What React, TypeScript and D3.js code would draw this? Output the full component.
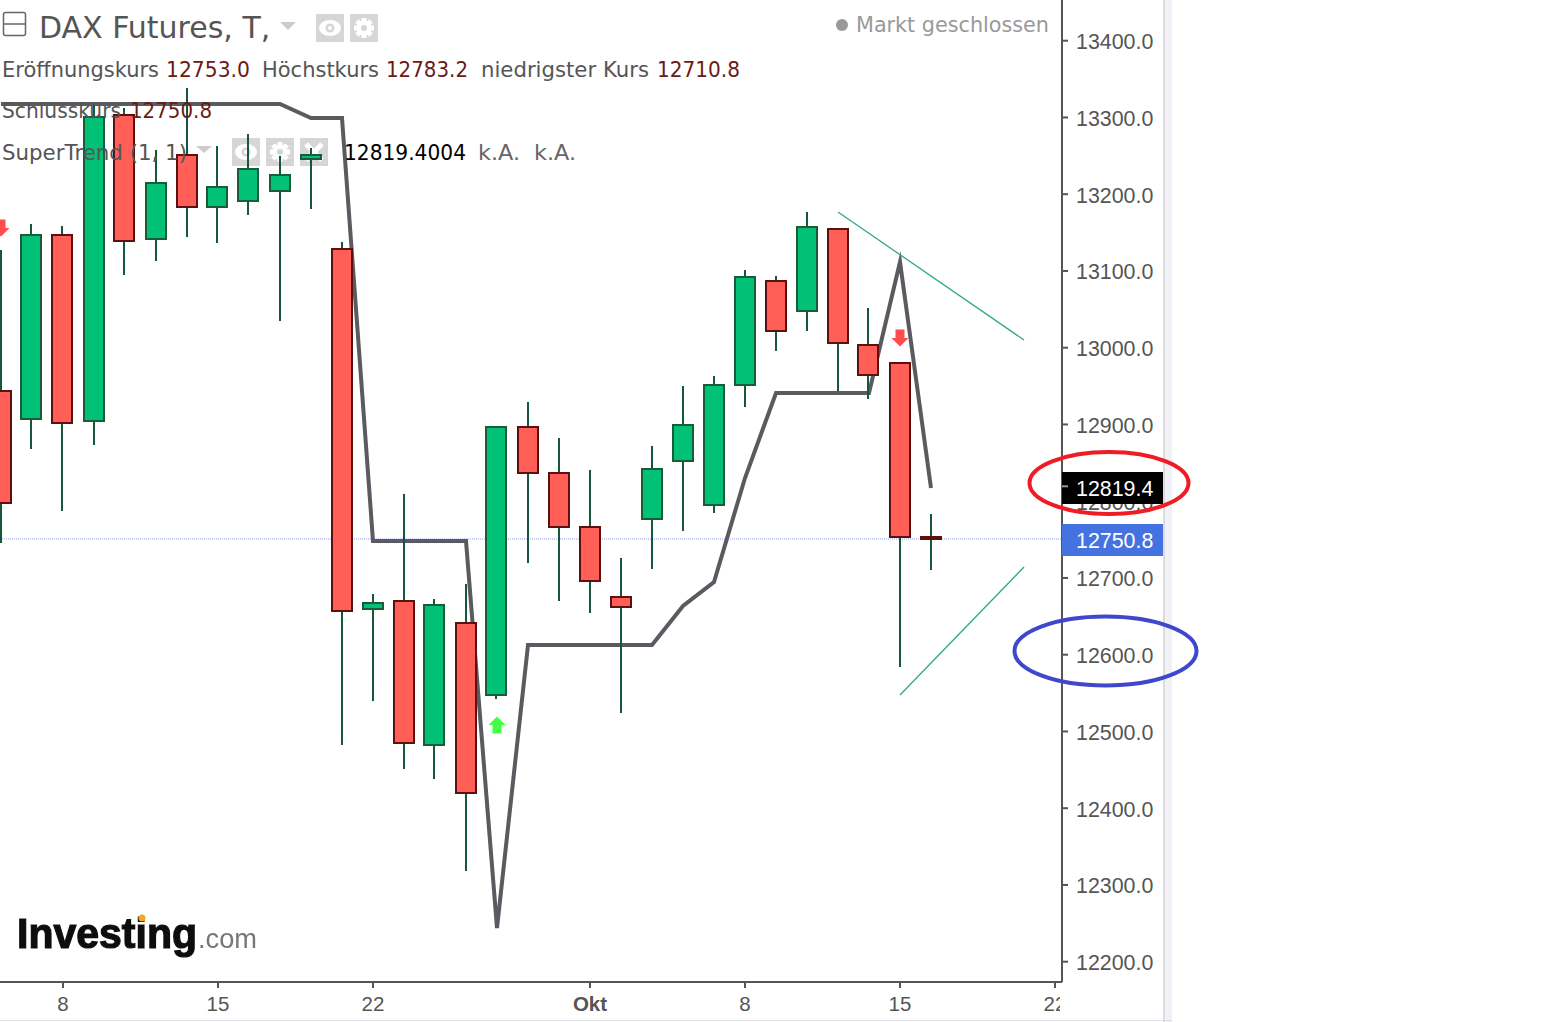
import React from 'react';
import { scaleLinear, line } from 'd3';

// daily candles, 3 Sep .. 16 Oct
const opens = [12943.6, 12907.1, 13146.8, 12904.5, 13303.2, 13141.6, 13251.0, 13183.3, 13191.1, 13204.2, 13245.9, 13128.6, 12659.5, 12669.9, 12482.3, 12641.3, 12547.5, 12896.7, 12836.7, 12766.4, 12675.2, 12776.8, 12852.4, 12795.0, 12951.4, 13086.9, 13047.8, 13154.7, 13003.5, 12980.0, 12753.0];
const highs = [13127.3, 13161.2, 13158.6, 13316.2, 13312.3, 13257.6, 13338.4, 13262.8, 13278.4, 13249.8, 13260.2, 13137.7, 12679.1, 12809.4, 12672.5, 12692.1, 12896.7, 12929.2, 12882.3, 12840.6, 12726.0, 12871.9, 12950.1, 12963.1, 13101.2, 13093.4, 13176.8, 13154.7, 13051.7, 12980.0, 12783.2];
const lows = [12745.5, 12868.0, 12787.2, 12873.2, 13094.7, 13113.0, 13144.2, 13136.4, 13172.9, 13034.8, 13180.7, 12482.3, 12539.6, 12451.0, 12438.0, 12318.1, 12542.2, 12719.4, 12669.9, 12654.3, 12524.0, 12711.6, 12761.1, 12784.6, 12922.7, 12995.7, 13021.8, 12943.6, 12933.1, 12584.0, 12710.8];
const closes = [12797.6, 13146.8, 12901.9, 13300.6, 13139.0, 13214.6, 13183.3, 13209.4, 13232.8, 13225.0, 13251.0, 12656.9, 12667.3, 12484.9, 12664.7, 12419.8, 12896.7, 12836.7, 12766.4, 12696.0, 12662.1, 12841.9, 12899.3, 12951.4, 13092.1, 13021.8, 13157.3, 13006.1, 12964.4, 12753.0, 12750.8];

const superTrend = [13317.5, 13317.5, 13317.5, 13317.5, 13317.5, 13317.5, 13317.5, 13317.5, 13317.5, 13317.5, 13299.3, 13299.3, 12748.1, 12748.1, 12748.1, 12748.1, 12243.9, 12612.6, 12612.6, 12612.6, 12612.6, 12612.6, 12663.4, 12694.7, 12830.2, 12941.0, 12941.0, 12941.0, 12941.0, 13111.7, 12817.2];

const priceTicks = [13400, 13300, 13200, 13100, 13000, 12900, 12800, 12700, 12600, 12500, 12400, 12300, 12200];
const dateTicks = [2, 7, 12, 19, 24, 29, 34];
const dateLabels = ['8', '15', '22', 'Okt', '8', '15', '22'];

const trendUpper = [[27, 13176.8], [33, 13010.0]];
const trendLower = [[29, 12547.5], [33, 12714.2]];

const downArrows = [[0, 13155.9], [29, 13012.6]];
const upArrows = [[16, 12508.4]];

const lastClose = 12750.8;
const lastTrend = 12819.4;

const uiFont = '"DejaVu Sans", sans-serif';
const axisFont = '"Liberation Sans", Arial, sans-serif';

const plotRight = 1062;
const plotBottom = 982;

const labelColor = '#555';
const valueColor = '#6b1a14';

const Eye = (props: { x: number, y: number }) => (
    <g transform={`translate(${props.x},${props.y})`}>
        <rect width={28} height={28} fill="#d6d6d6" />
        <ellipse cx={14} cy={14} rx={11} ry={8} fill="#fff" />
        <circle cx={14} cy={14} r={4.5} fill="#d6d6d6" />
        <circle cx={14} cy={14} r={2} fill="#fff" />
    </g>
);

const Gear = (props: { x: number, y: number }) => (
    <g transform={`translate(${props.x},${props.y})`}>
        <rect width={28} height={28} fill="#d6d6d6" />
        {[0, 45, 90, 135].map(a => <rect key={a} x={11.5} y={4} width={5} height={20} fill="#fff" transform={`rotate(${a} 14 14)`} />)}
        <circle cx={14} cy={14} r={7.5} fill="#fff" />
        <circle cx={14} cy={14} r={3} fill="#d6d6d6" />
    </g>
);

const Cross = (props: { x: number, y: number }) => (
    <g transform={`translate(${props.x},${props.y})`}>
        <rect width={28} height={28} fill="#d6d6d6" />
        <path d="M6 6L22 22M22 6L6 22" stroke="#fff" strokeWidth={5} />
    </g>
);

// legend text fitted to the width it has in the picture
const Label = (props: { x: number, x2: number, y: number, fill: string, size?: number, text: string }) => (
    <text x={props.x} y={props.y} fontFamily={uiFont} fontSize={props.size ?? 21} fill={props.fill}
        textLength={props.x2 - props.x} lengthAdjust="spacingAndGlyphs">{props.text}</text>
);

const App = () => {
    let x = scaleLinear().domain([0, 34]).range([1, 1055]);
    let y = scaleLinear().domain([13400, 12200]).range([40.7, 961.7]);
    let candleWidth = 20;

    let trendPath = line<number>().x((d, i) => x(i)).y(d => y(d))(superTrend);
    let pairPath = line<number[]>().x(d => x(d[0])).y(d => y(d[1]));

    return (
        <svg width={1560} height={1022} style={{ position: 'absolute', left: 0, top: 0, background: '#fff' }}>
            <defs>
                <clipPath id="plot"><rect x={0} y={0} width={1060} height={1022} /></clipPath>
                <filter id="soft"><feGaussianBlur stdDeviation={0.5} /></filter>
            </defs>

            {/* page edges */}
            <rect x={1163} y={0} width={9} height={1022} fill="#f1f1f8" />
            <rect x={1163} y={0} width={2} height={1022} fill="#dcdcdc" />
            <line x1={0} x2={1172} y1={1020.5} y2={1020.5} stroke="#dcdce4" />

            <Eye x={316} y={14} />
            <Gear x={350} y={14} />
            <Eye x={232} y={138} />
            <Gear x={266} y={138} />
            <Cross x={300} y={138} />

            <line x1={0} x2={plotRight} y1={y(lastClose)} y2={y(lastClose)} stroke="#8f9fe8" strokeDasharray="1 1" />

            <path d={trendPath} fill="none" stroke="#5a5a60" strokeWidth={4} strokeLinejoin="miter" strokeMiterlimit={6.5} />

            {opens.map((o, i) => {
                let up = closes[i] >= o;
                let top = y(Math.max(o, closes[i]));
                let bottom = y(Math.min(o, closes[i]));
                let cx = Math.floor(x(i));
                return (
                    <g key={i} shapeRendering="crispEdges">
                        <line x1={cx} x2={cx} y1={y(highs[i])} y2={y(lows[i])} stroke="#14573a" strokeWidth={2} />
                        <rect x={cx - candleWidth / 2} y={top} width={candleWidth} height={Math.max(bottom - top, 1)}
                            fill={up ? '#00c176' : '#ff5f57'} stroke={up ? '#1a5c3a' : '#5c1010'} strokeWidth={2} />
                    </g>
                );
            })}

            <path d={pairPath(trendUpper)} stroke="#2fa88c" strokeWidth={1.3} fill="none" />
            <path d={pairPath(trendLower)} stroke="#2fa88c" strokeWidth={1.3} fill="none" />

            {downArrows.map((d, i) => (
                <path key={i} transform={`translate(${x(d[0])},${y(d[1])})`} d="M-4.5 -8.5H4.5V0H8.5L0 8.5L-8.5 0H-4.5Z" fill="#ff4d4d" />
            ))}
            {upArrows.map((d, i) => (
                <path key={i} transform={`translate(${x(d[0])},${y(d[1])})`} d="M-4.5 8.5H4.5V0H8.5L0 -8.5L-8.5 0H-4.5Z" fill="#44ff44" />
            ))}

            {/* price axis */}
            <line x1={plotRight} x2={plotRight} y1={0} y2={plotBottom} stroke="#555" strokeWidth={2} />
            <line x1={0} x2={plotRight} y1={plotBottom} y2={plotBottom} stroke="#555" strokeWidth={2} />
            {priceTicks.map(t => (
                <g key={t} transform={`translate(${plotRight},${y(t)})`}>
                    <line x2={6} stroke="#555" strokeWidth={2} />
                    <text x={14} y={8.5} fontFamily={axisFont} fontSize={21.4} fill="#555">{t.toFixed(1)}</text>
                </g>
            ))}

            <rect x={plotRight} y={472} width={101} height={32} fill="#000" />
            <line x1={plotRight} x2={plotRight + 6} y1={y(lastTrend)} y2={y(lastTrend)} stroke="#999" strokeWidth={2} />
            <text x={plotRight + 14} y={y(lastTrend) + 10} fontFamily={axisFont} fontSize={21.4} fill="#fff">{lastTrend.toFixed(1)}</text>
            <rect x={plotRight} y={524} width={101} height={32} fill="#4472e0" />
            <text x={plotRight + 14} y={y(lastClose) + 9} fontFamily={axisFont} fontSize={21.4} fill="#fff">{lastClose.toFixed(1)}</text>

            {/* date axis */}
            <g clipPath="url(#plot)">
                {dateTicks.map((t, i) => (
                    <g key={i} transform={`translate(${x(t)},${plotBottom})`}>
                        <line y2={6} stroke="#555" strokeWidth={2} />
                        <text y={29} textAnchor="middle" fontFamily={axisFont} fontSize={20.5} fontWeight={dateLabels[i] == 'Okt' ? 'bold' : 'normal'} fill="#555">{dateLabels[i]}</text>
                    </g>
                ))}
            </g>

            {/* legend */}
            <rect x={3.5} y={12.5} width={22} height={23} rx={2} fill="none" stroke="#666" strokeWidth={1.5} />
            <line x1={4} x2={25} y1={24} y2={24} stroke="#666" strokeWidth={1.5} />
            <text x={39} y={38} fontFamily={uiFont} fontSize={30} fill="#555">DAX Futures, T,</text>
            <path d="M280 22H296L288 30Z" fill="#ccc" />

            <circle cx={842} cy={25} r={6} fill="#999" />
            <Label x={856} x2={1049} y={32} fill="#999" text="Markt geschlossen" />

            <Label x={2} x2={159} y={77} fill={labelColor} text="Eröffnungskurs" />
            <Label x={166} x2={250} y={77} fill={valueColor} text="12753.0" />
            <Label x={262} x2={379} y={77} fill={labelColor} text="Höchstkurs" />
            <Label x={386} x2={468} y={77} fill={valueColor} text="12783.2" />
            <Label x={481} x2={649} y={77} fill={labelColor} text="niedrigster Kurs" />
            <Label x={657} x2={740} y={77} fill={valueColor} text="12710.8" />
            <Label x={2} x2={121} y={118} fill={labelColor} text="Schlusskurs" />
            <Label x={130} x2={212} y={118} fill={valueColor} text="12750.8" />
            <Label x={2} x2={187} y={160} fill={labelColor} text="SuperTrend (1, 1)" />
            <path d="M196 146H212L204 153Z" fill="#ccc" />
            <Label x={344} x2={466} y={160} fill="#000" text="12819.4004" />
            <Label x={478} x2={520} y={160} fill="#666" text="k.A." />
            <Label x={534} x2={576} y={160} fill="#666" text="k.A." />

            {/* logo */}
            <g filter="url(#soft)">
                <text x={17} y={948} fontFamily={axisFont} fontSize={42} fontWeight="bold" fill="#111" stroke="#111" strokeWidth={1.2} textLength={180} lengthAdjust="spacingAndGlyphs">Investing</text>
                <text x={198} y={948} fontFamily={axisFont} fontSize={28} fill="#777" textLength={59} lengthAdjust="spacingAndGlyphs">.com</text>
                <circle cx={142} cy={918} r={3.5} fill="#f5a623" />
            </g>

            {/* hand drawn marks */}
            <ellipse cx={1109} cy={483} rx={79.5} ry={31} fill="none" stroke="#ee1c25" strokeWidth={4} />
            <ellipse cx={1105.5} cy={651} rx={91} ry={34.5} fill="none" stroke="#3f48cc" strokeWidth={4} />
        </svg>
    );
};

export default App;
